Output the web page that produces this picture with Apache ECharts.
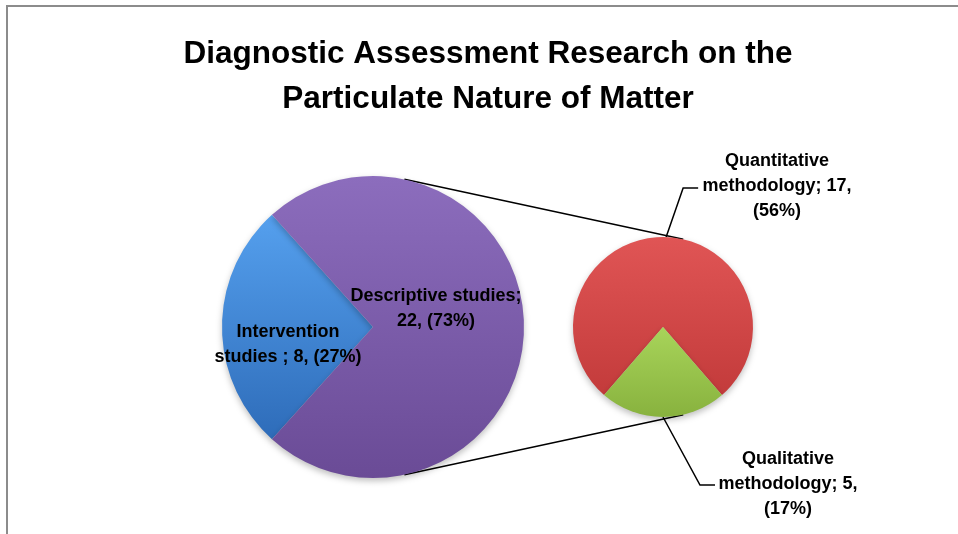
<!DOCTYPE html>
<html>
<head>
<meta charset="utf-8">
<script src="https://cdn.jsdelivr.net/npm/echarts@6/dist/echarts.min.js"></script>
<style>
  html, body { margin: 0; padding: 0; background: #fff; }
  #chart { width: 958px; height: 534px; }
</style>
</head>
<body>
<div id="chart"></div>
<script>
// values
const mainNames = ['Intervention studies ', 'Descriptive studies'];
const mainValues = [8, 22];
const mainPct = ['27%', '73%'];
const subNames = ['Quantitative methodology', 'Qualitative methodology'];
const subValues = [17, 5];
const subPct = ['56%', '17%'];

const font = '"Liberation Sans", Arial, sans-serif';
const mainC = [373, 327], mainR = 151;
const subC = [663, 327], subR = 90;

// pie geometry helpers (angles in degrees, counter-clockwise, y up)
const pt = (c, r, a) => [c[0] + r * Math.cos(a * Math.PI / 180), c[1] - r * Math.sin(a * Math.PI / 180)];
const mainTotal = mainValues[0] + mainValues[1];
const subTotal = subValues[0] + subValues[1];
const mainStart = 180 + mainValues[0] / mainTotal * 180;
const subStart = 270 - subValues[1] / subTotal * 180;

const topA = pt(mainC, mainR, 78), topB = pt(subC, subR, 77);
const botA = pt(mainC, mainR, -78), botB = pt(subC, subR, -77);

const grad = (top, bottom) => ({
  type: 'linear', x: 0, y: 0, x2: 0, y2: 1,
  colorStops: [{ offset: 0, color: top }, { offset: 1, color: bottom }]
});

const mainText = [
  'Intervention\nstudies ; ' + mainValues[0] + ', (' + mainPct[0] + ')',
  'Descriptive studies;\n' + mainValues[1] + ', (' + mainPct[1] + ')'
];
const subText = [
  'Quantitative\nmethodology; ' + subValues[0] + ',\n(' + subPct[0] + ')',
  'Qualitative\nmethodology; ' + subValues[1] + ',\n(' + subPct[1] + ')'
];

const labelStyle = {
  fontFamily: font, fontSize: 18, fontWeight: 'bold', color: '#000',
  lineHeight: 25, align: 'center'
};

const chart = echarts.init(document.getElementById('chart'));
chart.setOption({
  backgroundColor: '#fff',
  animation: false,
  title: {
    text: 'Diagnostic Assessment Research on the\nParticulate Nature of Matter',
    left: 488, top: 32, textAlign: 'center', padding: 0,
    textStyle: { fontFamily: font, fontSize: 31.5, fontWeight: 'bold', color: '#000', lineHeight: 45 }
  },
  graphic: [
    { type: 'polyline', shape: { points: [[7, 534], [7, 6], [958, 6]] }, style: { stroke: '#8c8c8c', lineWidth: 2, fill: null } },
    { type: 'line', shape: { x1: topA[0], y1: topA[1], x2: topB[0], y2: topB[1] }, style: { stroke: '#000', lineWidth: 1.5 }, z: 0 },
    { type: 'line', shape: { x1: botA[0], y1: botA[1], x2: botB[0], y2: botB[1] }, style: { stroke: '#000', lineWidth: 1.5 }, z: 0 }
  ],
  series: [
    {
      type: 'pie',
      center: mainC,
      radius: mainR,
      startAngle: mainStart,
      clockwise: true,
      z: 3,
      itemStyle: { shadowBlur: 6, shadowColor: 'rgba(0,0,0,0.25)', shadowOffsetY: 3 },
      label: {
        position: 'inside', ...labelStyle,
        formatter: p => mainText[p.dataIndex]
      },
      labelLine: { show: false },
      labelLayout: p => p.dataIndex === 0
        ? { x: mainC[0] - 85, y: mainC[1] + 18, align: 'center', verticalAlign: 'middle' }
        : { x: mainC[0] + 63, y: mainC[1] - 18, align: 'center', verticalAlign: 'middle' },
      data: [
        { name: mainNames[0], value: mainValues[0], itemStyle: { color: grad('#55a0ee', '#2e6cb9') } },
        { name: mainNames[1], value: mainValues[1], itemStyle: { color: grad('#8c6dbd', '#6a4b96') } }
      ]
    },
    {
      type: 'pie',
      center: subC,
      radius: subR,
      startAngle: subStart,
      clockwise: true,
      z: 3,
      itemStyle: { shadowBlur: 6, shadowColor: 'rgba(0,0,0,0.25)', shadowOffsetY: 3 },
      label: {
        position: 'outside', ...labelStyle,
        formatter: p => subText[p.dataIndex]
      },
      labelLine: { show: true, lineStyle: { color: '#000', width: 1.5 } },
      labelLayout: p => {
        if (p.dataIndex === 0) {
          const s = pt(subC, subR, 88);
          return {
            x: 777, y: 186, align: 'center', verticalAlign: 'middle',
            labelLinePoints: [s, [s[0] + 17, 188], [s[0] + 32, 188]]
          };
        }
        const s = pt(subC, subR, -90);
        return {
          x: 788, y: 484, align: 'center', verticalAlign: 'middle',
          labelLinePoints: [s, [s[0] + 37, 485], [s[0] + 52, 485]]
        };
      },
      data: [
        { name: subNames[0], value: subValues[0], itemStyle: { color: grad('#e05555', '#c33b3b') } },
        { name: subNames[1], value: subValues[1], itemStyle: { color: grad('#a8d45a', '#88b23e') } }
      ]
    }
  ]
});
</script>
</body>
</html>
